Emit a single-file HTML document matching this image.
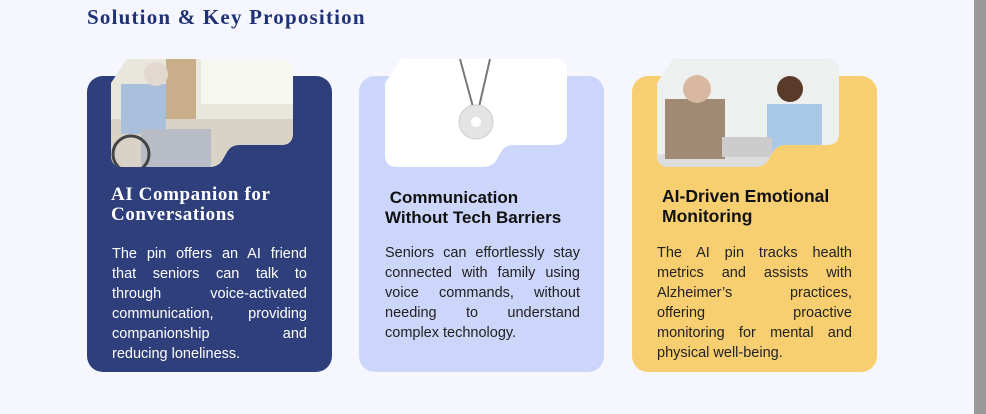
<!DOCTYPE html>
<html><head><meta charset="utf-8"><style>
body{margin:0;width:986px;height:414px;background:#f5f6fe;position:relative;overflow:hidden;font-family:"Liberation Sans",sans-serif}
.title{position:absolute;left:87px;top:5px;font-family:"Liberation Serif",serif;font-weight:bold;font-size:21px;color:#1f3276;letter-spacing:1.2px}
.card{position:absolute;top:76px;width:245px;height:296px;border-radius:16px}
.img{position:absolute;top:59px;width:182px;height:108px}
h3{position:absolute;margin:0;font-size:17px;line-height:20px;font-weight:bold}
.txt{position:absolute;width:195px;font-size:14.5px;line-height:20px}
.txt div{text-align:justify;text-align-last:justify;white-space:nowrap}
.txt div.l{text-align-last:left}
.scroll{position:absolute;left:974px;top:0;width:12px;height:414px;background:#999}
</style></head><body>
<div class="title">Solution &amp; Key Proposition</div>

<div class="card" style="left:87px;background:#2e3f7c"></div>
<div class="card" style="left:359px;background:#cbd6fa"></div>
<div class="card" style="left:632px;background:#f7cf70"></div>

<svg width="0" height="0" style="position:absolute"><defs><clipPath id="cp"><path d="M16,0 H170 Q182,0 182,12 V74 Q182,86 170,86 H128 Q120,86 116,93 L112,100 Q108,108 98,108 H12 Q0,108 0,96 V24 Z"/></clipPath></defs></svg>

<svg class="img" style="left:111px" viewBox="0 0 182 108">
<g clip-path="url(#cp)"><rect width="182" height="108" fill="#e9e6dc"/><rect x="90" y="0" width="92" height="45" fill="#f7f7f2"/><rect x="55" y="0" width="30" height="80" fill="#c9ae8a"/><rect x="0" y="60" width="182" height="48" fill="#d8d3c6"/><rect x="10" y="25" width="45" height="50" fill="#a9c0dc"/><circle cx="45" cy="15" r="12" fill="#e2d8d0"/><rect x="30" y="70" width="70" height="38" fill="#b8bcc4"/><circle cx="20" cy="95" r="18" fill="none" stroke="#444" stroke-width="3"/></g></svg>

<svg class="img" style="left:385px" viewBox="0 0 182 108">
<g clip-path="url(#cp)"><rect width="182" height="108" fill="#fff"/></g>
<line x1="75" y1="0" x2="88" y2="48" stroke="#777" stroke-width="2"/><line x1="105" y1="0" x2="94" y2="48" stroke="#777" stroke-width="2"/>
<circle cx="91" cy="63" r="17" fill="#e4e4e4" stroke="#ccc"/><circle cx="91" cy="63" r="5" fill="#fff"/></svg>

<svg class="img" style="left:657px" viewBox="0 0 182 108">
<g clip-path="url(#cp)"><rect width="182" height="108" fill="#eef0f0"/><rect x="0" y="95" width="182" height="13" fill="#ddd"/><rect x="8" y="40" width="60" height="60" fill="#a08a74"/><circle cx="40" cy="30" r="14" fill="#d8b8a0"/><rect x="110" y="45" width="55" height="50" fill="#a9c8e6"/><circle cx="133" cy="30" r="13" fill="#5a3a28"/><rect x="65" y="78" width="50" height="20" fill="#ccc"/></g></svg>

<h3 style="left:111px;top:185px;color:#fff;font-family:'Liberation Serif',serif;font-size:19px;letter-spacing:0.6px">AI Companion for<br>Conversations</h3>
<h3 style="left:385px;top:188px;color:#111">&nbsp;Communication<br>Without Tech Barriers</h3>
<h3 style="left:662px;top:186px;color:#111;font-size:17.5px">AI-Driven Emotional<br>Monitoring</h3>

<div class="txt" style="left:112px;top:244px;color:#fff">
<div>The pin offers an AI friend</div><div>that seniors can talk to</div><div>through voice-activated</div><div>communication, providing</div><div>companionship and</div><div class="l">reducing loneliness.</div></div>
<div class="txt" style="left:385px;top:243px;color:#222">
<div>Seniors can effortlessly stay</div><div>connected with family using</div><div>voice commands, without</div><div>needing to understand</div><div class="l">complex technology.</div></div>
<div class="txt" style="left:657px;top:243px;color:#222">
<div>The AI pin tracks health</div><div>metrics and assists with</div><div>Alzheimer’s practices,</div><div>offering proactive</div><div>monitoring for mental and</div><div class="l">physical well-being.</div></div>

<div class="scroll"></div>
</body></html>
